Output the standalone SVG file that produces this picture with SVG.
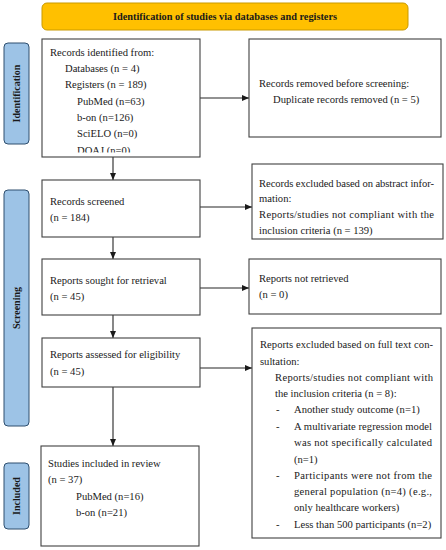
<svg xmlns="http://www.w3.org/2000/svg" width="446" height="550" viewBox="0 0 446 550">
<defs>
<style>
text{font-family:"Liberation Serif","Times New Roman",serif;font-size:10.6px;fill:#1a1a1a}
.box{fill:#fff;stroke:#404040;stroke-width:1.1}
.side{fill:#9DC3E6;stroke:#2F4F6F;stroke-width:1}
.sidet{font-weight:bold;font-size:10px;text-anchor:middle}
.con{stroke:#262626;stroke-width:1.1;fill:none}
</style>
<marker id="ah" markerWidth="8" markerHeight="8" refX="7" refY="4" orient="auto" markerUnits="userSpaceOnUse">
<path d="M0,1 L7,4 L0,7 Z" fill="#1a1a1a"/>
</marker>
<clipPath id="c1"><rect x="42" y="39" width="158" height="113.5"/></clipPath>
</defs>
<rect width="446" height="550" fill="#fff"/>

<g id="title">
<rect x="42" y="3" width="366" height="27" rx="5" fill="#FFC000" stroke="#C99A00" stroke-width="1"/>
<text x="225" y="20" text-anchor="middle" style="font-weight:bold;font-size:10.3px">Identification of studies via databases and registers</text>
</g>

<g id="side-identification">
<rect class="side" x="4" y="43" width="25" height="101" rx="4"/>
<text class="sidet" transform="translate(20,93.5) rotate(-90)">Identification</text>
</g>
<g id="side-screening">
<rect class="side" x="4" y="190" width="25" height="236" rx="4"/>
<text class="sidet" transform="translate(20,308) rotate(-90)">Screening</text>
</g>
<g id="side-included">
<rect class="side" x="4" y="463" width="25" height="66" rx="4"/>
<text class="sidet" transform="translate(20,496) rotate(-90)">Included</text>
</g>

<g id="connectors">
<line class="con" x1="200" y1="98" x2="249" y2="98" marker-end="url(#ah)"/>
<line class="con" x1="113" y1="157" x2="113" y2="180" marker-end="url(#ah)"/>
<line class="con" x1="200" y1="207" x2="252" y2="207" marker-end="url(#ah)"/>
<line class="con" x1="113" y1="237" x2="113" y2="259" marker-end="url(#ah)"/>
<line class="con" x1="200" y1="288" x2="249" y2="288" marker-end="url(#ah)"/>
<line class="con" x1="113" y1="315" x2="113" y2="338" marker-end="url(#ah)"/>
<line class="con" x1="200" y1="368" x2="252" y2="368" marker-end="url(#ah)"/>
<line class="con" x1="113" y1="387" x2="113" y2="446" marker-end="url(#ah)"/>
</g>

<g id="records-identified">
<rect class="box" x="42" y="39" width="158" height="118"/>
<g clip-path="url(#c1)">
<text x="50" y="55.5">Records identified from:</text>
<text x="65" y="71.5">Databases (n = 4)</text>
<text x="65" y="88">Registers (n = 189)</text>
<text x="77" y="104.5">PubMed (n=63)</text>
<text x="77" y="120.5">b-on (n=126)</text>
<text x="77" y="136.5">SciELO (n=0)</text>
<text x="77" y="154">DOAJ (n=0)</text>
</g>
</g>

<g id="records-removed">
<rect class="box" x="249" y="39" width="192" height="98"/>
<text x="259" y="86.5">Records removed before screening:</text>
<text x="273" y="103">Duplicate records removed (n = 5)</text>
</g>

<g id="records-screened">
<rect class="box" x="42" y="180" width="158" height="57"/>
<text x="50" y="204.5">Records screened</text>
<text x="50" y="221">(n = 184)</text>
</g>

<g id="records-excluded">
<rect class="box" x="252" y="164" width="191" height="75"/>
<text x="259" y="186.5" textLength="175" lengthAdjust="spacing">Records excluded based on abstract infor-</text>
<text x="259" y="202">mation:</text>
<text x="259" y="218" textLength="175" lengthAdjust="spacing">Reports/studies not compliant with the</text>
<text x="259" y="234">inclusion criteria (n = 139)</text>
</g>

<g id="reports-sought">
<rect class="box" x="42" y="259" width="158" height="56"/>
<text x="50" y="283.5">Reports sought for retrieval</text>
<text x="50" y="300">(n = 45)</text>
</g>

<g id="reports-not-retrieved">
<rect class="box" x="249" y="259" width="192" height="55"/>
<text x="259" y="281.5">Reports not retrieved</text>
<text x="259" y="297.5">(n = 0)</text>
</g>

<g id="reports-assessed">
<rect class="box" x="42" y="338" width="158" height="49"/>
<text x="50" y="358">Reports assessed for eligibility</text>
<text x="50" y="374.5">(n = 45)</text>
</g>

<g id="reports-excluded">
<rect class="box" x="252" y="328" width="189" height="210"/>
<text x="260" y="348" textLength="173" lengthAdjust="spacing">Reports excluded based on full text con-</text>
<text x="260" y="364.5">sultation:</text>
<text x="275" y="380.5" textLength="158" lengthAdjust="spacing">Reports/studies not compliant with</text>
<text x="275" y="397">the inclusion criteria (n = 8):</text>
<text x="276" y="413">-</text><text x="294" y="413">Another study outcome (n=1)</text>
<text x="276" y="429.5">-</text><text x="294" y="429.5" textLength="138" lengthAdjust="spacing">A multivariate regression model</text>
<text x="294" y="446" textLength="138" lengthAdjust="spacing">was not specifically calculated</text>
<text x="294" y="462.5">(n=1)</text>
<text x="276" y="479">-</text><text x="294" y="479" textLength="138" lengthAdjust="spacing">Participants were not from the</text>
<text x="294" y="495" textLength="138" lengthAdjust="spacing">general population (n=4) (e.g.,</text>
<text x="294" y="511">only healthcare workers)</text>
<text x="276" y="527.5">-</text><text x="294" y="527.5">Less than 500 participants (n=2)</text>
</g>

<g id="studies-included">
<rect class="box" x="41" y="446" width="158" height="100"/>
<text x="48" y="466.5">Studies included in review</text>
<text x="48" y="483">(n = 37)</text>
<text x="76" y="500">PubMed (n=16)</text>
<text x="76" y="516">b-on (n=21)</text>
</g>
</svg>
